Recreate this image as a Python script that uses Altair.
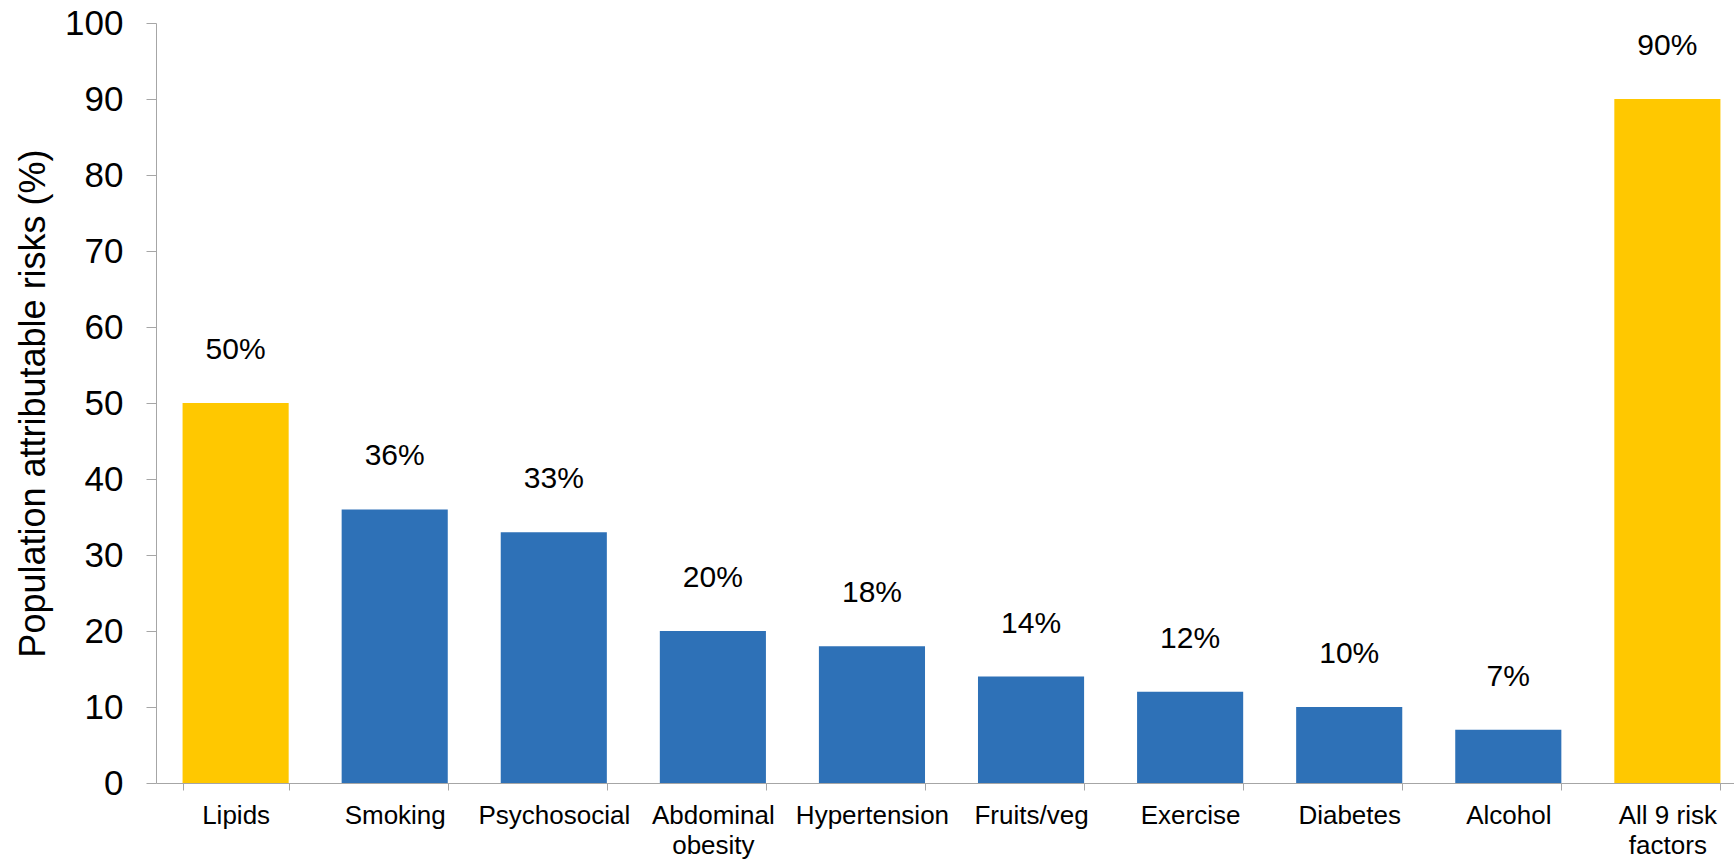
import altair as alt
import pandas as pd

categories = ["Lipids", "Smoking", "Psychosocial", "Abdominal obesity", "Hypertension",
              "Fruits/veg", "Exercise", "Diabetes", "Alcohol", "All 9 risk factors"]
values = [50, 36, 33, 20, 18, 14, 12, 10, 7, 90]
groups = ["highlight", "single", "single", "single", "single",
          "single", "single", "single", "single", "highlight"]
labels = [f"{v}%" for v in values]

df = pd.DataFrame({"cat": categories, "val": values, "grp": groups, "lab": labels})

FONT = "Liberation Sans"

x = alt.X("cat:N", sort=categories, title=None,
          scale=alt.Scale(range=[0, 1591], paddingInner=0.333, paddingOuter=0.167),
          axis=alt.Axis(labelAngle=0, tickBand="extent", tickSize=7, labelFontSize=26,
                        labelFont=FONT, labelColor="#000000", labelPadding=12,
                        labelLineHeight=30, domainColor="#A6A6A6", tickColor="#A6A6A6",
                        labelExpr="datum.value == 'Abdominal obesity' ? ['Abdominal', 'obesity'] : datum.value == 'All 9 risk factors' ? ['All 9 risk', 'factors'] : datum.value"))

y = alt.Y("val:Q", title="Population attributable risks (%)",
          scale=alt.Scale(domain=[0, 100], nice=False),
          axis=alt.Axis(values=list(range(0, 101, 10)), tickSize=10, labelFontSize=35,
                        labelFont=FONT, labelColor="#000000", labelPadding=23, grid=False,
                        domainColor="#A6A6A6", tickColor="#A6A6A6",
                        titleFont=FONT, titleFontSize=36, titleFontWeight="normal",
                        titleColor="#000000", titleAngle=270, titleX=-123, titleY=380,
                        titleAlign="center", titleBaseline="middle"))

bars = alt.Chart(df).mark_bar().encode(
    x=x, y=y,
    color=alt.Color("grp:N", scale=alt.Scale(domain=["highlight", "single"],
                                              range=["#FFC800", "#2E71B7"]), legend=None),
)

text = alt.Chart(df).mark_text(baseline="alphabetic", dy=-44, fontSize=30, font=FONT,
                               color="#000000").encode(
    x=alt.X("cat:N", sort=categories), y="val:Q", text="lab:N")

chart = alt.layer(bars, text).properties(
    width=1578, height=760,
    autosize=alt.AutoSizeParams(type="none"),
    padding={"left": 156, "top": 23, "right": 0, "bottom": 77},
).configure_view(stroke=None)

chart.save("out.html", embed_options={"renderer": "svg", "actions": False})
